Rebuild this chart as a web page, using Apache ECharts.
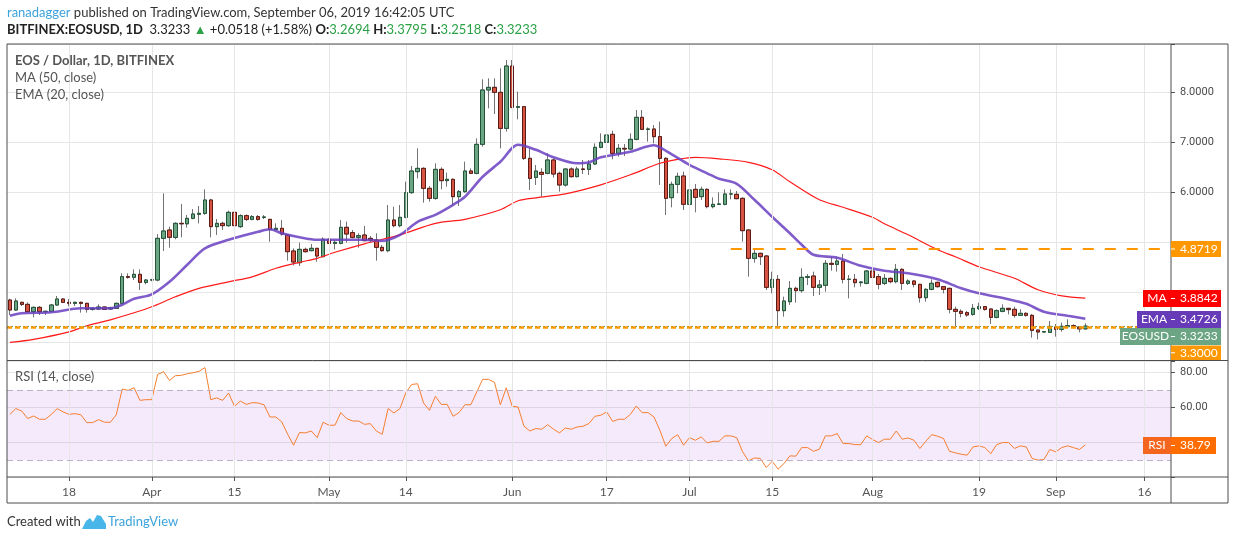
<!DOCTYPE html>
<html lang="en">
<head>
<meta charset="UTF-8">
<title>EOS / Dollar, 1D, BITFINEX</title>
<script src="https://cdn.jsdelivr.net/npm/echarts/dist/echarts.min.js"></script>
<style>
    html, body { margin: 0; padding: 0; background: #fff; }
    #chart { width: 1234px; height: 540px; }
</style>
</head>
<body>
<div id="chart"></div>
<script>
    // daily candles from Mar 8 to Sep 6 2019, axis runs on to Sep 20
    const firstDay = Date.UTC(2019, 2, 8);
    const totalSlots = 197;

    const open = [
        3.846, 3.646, 3.799, 3.759, 3.613, 3.699, 3.613, 3.620, 3.746, 3.866,
        3.799, 3.779, 3.799, 3.779, 3.659, 3.666, 3.706, 3.666, 3.679, 3.779,
        4.313, 4.300, 4.359, 4.199, 4.246, 4.246, 5.079, 5.246, 5.099, 5.379,
        5.370, 5.479, 5.560, 5.579, 5.846, 5.313, 5.379, 5.333, 5.599, 5.313,
        5.533, 5.459, 5.513, 5.500, 5.459, 5.259, 5.279, 5.146, 4.826, 4.593,
        4.859, 4.833, 4.879, 4.713, 5.059, 4.979, 4.979, 5.299, 5.193, 5.099,
        5.146, 5.079, 5.046, 4.899, 4.833, 5.446, 5.333, 5.499, 5.993, 6.413,
        6.479, 6.079, 5.879, 6.459, 6.233, 6.259, 5.913, 6.013, 6.426, 6.379,
        6.959, 8.046, 8.099, 7.999, 7.279, 8.526, 7.699, 7.713, 6.679, 6.299,
        6.399, 6.379, 6.646, 6.379, 6.146, 6.466, 6.313, 6.466, 6.459, 6.566,
        6.899, 6.999, 7.159, 6.779, 6.879, 6.866, 7.059, 7.499, 7.259, 7.266,
        7.113, 6.679, 5.893, 6.159, 6.326, 5.760, 6.059, 5.913, 6.059, 5.713,
        5.759, 5.759, 5.966, 5.959, 5.879, 5.246, 4.679, 4.779, 4.726, 4.099,
        4.259, 3.633, 3.813, 4.079, 4.033, 4.299, 4.326, 4.099, 4.139, 4.579,
        4.559, 4.626, 4.259, 4.259, 4.193, 4.179, 4.426, 4.313, 4.179, 4.279,
        4.213, 4.459, 4.179, 4.226, 4.159, 3.893, 4.059, 4.199, 4.113, 4.079,
        3.659, 3.619, 3.593, 3.559, 3.673, 3.713, 3.666, 3.499, 3.619, 3.679,
        3.659, 3.539, 3.579, 3.539, 3.246, 3.206, 3.199, 3.306, 3.259, 3.313,
        3.333, 3.306, 3.2694
    ];
    const high = [
        3.870, 3.879, 3.813, 3.799, 3.713, 3.726, 3.633, 3.766, 3.926, 3.879,
        3.866, 3.813, 3.813, 3.793, 3.693, 3.759, 3.713, 3.713, 3.793, 4.379,
        4.379, 4.459, 4.459, 4.266, 4.270, 5.166, 5.979, 5.313, 5.400, 5.766,
        5.546, 5.666, 5.726, 6.059, 5.870, 5.466, 5.413, 5.633, 5.633, 5.560,
        5.559, 5.546, 5.546, 5.546, 5.470, 5.379, 5.446, 5.160, 4.879, 4.993,
        4.893, 4.966, 4.890, 5.099, 5.079, 5.046, 5.446, 5.413, 5.246, 5.179,
        5.326, 5.126, 5.179, 4.946, 5.746, 5.713, 5.746, 6.213, 6.526, 6.879,
        6.500, 6.126, 6.579, 6.499, 6.393, 6.279, 6.046, 6.613, 6.479, 7.079,
        8.259, 8.279, 8.279, 8.479, 8.646, 8.646, 8.013, 7.726, 6.879, 6.546,
        6.479, 6.779, 6.679, 6.413, 6.479, 6.499, 6.513, 6.646, 6.646, 6.979,
        7.179, 7.259, 7.233, 6.966, 6.966, 7.179, 7.646, 7.646, 7.299, 7.346,
        7.413, 6.700, 6.213, 6.393, 6.413, 6.113, 6.166, 6.113, 6.080, 5.899,
        5.999, 6.059, 6.059, 6.026, 5.900, 5.260, 4.859, 4.793, 4.746, 4.413,
        4.346, 3.913, 4.226, 4.113, 4.479, 4.366, 4.413, 4.246, 4.646, 4.713,
        4.713, 4.766, 4.346, 4.366, 4.226, 4.446, 4.446, 4.366, 4.366, 4.299,
        4.566, 4.479, 4.259, 4.246, 4.170, 4.080, 4.259, 4.213, 4.120, 4.090,
        3.713, 3.659, 3.626, 3.766, 3.793, 3.726, 3.680, 3.659, 3.759, 3.690,
        3.713, 3.659, 3.599, 3.566, 3.250, 3.226, 3.426, 3.366, 3.393, 3.459,
        3.359, 3.320, 3.3795
    ];
    const low = [
        3.546, 3.630, 3.726, 3.600, 3.499, 3.546, 3.546, 3.600, 3.730, 3.790,
        3.720, 3.726, 3.593, 3.593, 3.633, 3.646, 3.646, 3.646, 3.666, 3.760,
        4.273, 4.246, 4.046, 4.160, 4.220, 4.220, 4.826, 4.893, 5.060, 5.099,
        5.293, 5.460, 5.379, 5.550, 5.099, 5.146, 5.246, 5.310, 5.213, 5.290,
        5.426, 5.440, 5.433, 5.466, 5.013, 5.240, 5.133, 4.633, 4.539, 4.526,
        4.793, 4.820, 4.613, 4.700, 4.966, 4.859, 4.960, 4.993, 5.079, 4.893,
        5.020, 4.993, 4.633, 4.813, 4.800, 5.300, 5.300, 5.480, 5.970, 6.279,
        5.793, 5.813, 5.850, 6.059, 6.113, 5.746, 5.726, 5.990, 6.366, 6.360,
        6.913, 7.679, 7.566, 6.879, 7.213, 7.680, 7.459, 6.646, 6.046, 6.146,
        5.913, 6.360, 6.293, 6.013, 6.113, 6.293, 6.300, 6.366, 6.346, 6.550,
        6.880, 6.970, 6.660, 6.713, 6.726, 6.850, 7.040, 7.246, 7.013, 6.979,
        6.146, 5.546, 5.699, 5.979, 5.646, 5.579, 5.599, 5.846, 5.679, 5.679,
        5.746, 5.740, 5.859, 5.860, 5.013, 4.313, 4.593, 4.546, 4.046, 3.979,
        3.299, 3.513, 3.746, 3.793, 3.993, 4.146, 3.926, 3.946, 4.013, 4.433,
        4.413, 4.179, 3.879, 4.099, 4.113, 4.160, 4.279, 4.059, 4.146, 4.179,
        4.179, 4.046, 4.146, 4.099, 3.793, 3.813, 4.040, 4.093, 3.979, 3.579,
        3.313, 3.499, 3.513, 3.533, 3.646, 3.633, 3.366, 3.479, 3.600, 3.559,
        3.493, 3.526, 3.513, 3.093, 3.059, 3.193, 3.193, 3.113, 3.213, 3.300,
        3.279, 3.199, 3.2518
    ];
    const close = [
        3.646, 3.826, 3.759, 3.613, 3.699, 3.613, 3.620, 3.746, 3.866, 3.799,
        3.779, 3.799, 3.779, 3.659, 3.673, 3.706, 3.659, 3.693, 3.779, 4.313,
        4.300, 4.359, 4.199, 4.246, 4.250, 5.079, 5.226, 5.099, 5.379, 5.370,
        5.479, 5.566, 5.579, 5.846, 5.313, 5.379, 5.333, 5.599, 5.333, 5.533,
        5.459, 5.513, 5.459, 5.506, 5.259, 5.279, 5.166, 4.813, 4.606, 4.859,
        4.813, 4.879, 4.726, 5.059, 4.979, 4.999, 5.299, 5.166, 5.099, 5.133,
        5.033, 5.046, 4.899, 4.833, 5.446, 5.333, 5.499, 5.993, 6.426, 6.479,
        6.079, 5.879, 6.459, 6.233, 6.259, 5.913, 6.013, 6.426, 6.379, 6.959,
        8.046, 8.099, 7.999, 7.279, 8.526, 7.699, 7.713, 6.679, 6.279, 6.426,
        6.359, 6.646, 6.366, 6.146, 6.466, 6.313, 6.466, 6.459, 6.566, 6.899,
        6.999, 7.146, 6.779, 6.879, 6.866, 7.059, 7.499, 7.259, 7.266, 7.113,
        6.679, 5.879, 6.159, 6.319, 5.760, 6.046, 5.899, 6.059, 5.713, 5.759,
        5.766, 5.966, 5.966, 5.873, 5.233, 4.679, 4.779, 4.713, 4.099, 4.259,
        3.633, 3.826, 4.079, 4.033, 4.299, 4.313, 4.099, 4.146, 4.579, 4.559,
        4.626, 4.259, 4.260, 4.193, 4.206, 4.426, 4.299, 4.159, 4.279, 4.213,
        4.459, 4.179, 4.226, 4.159, 3.893, 4.059, 4.179, 4.113, 4.059, 3.659,
        3.619, 3.579, 3.546, 3.679, 3.713, 3.659, 3.499, 3.633, 3.679, 3.653,
        3.539, 3.579, 3.539, 3.239, 3.206, 3.213, 3.319, 3.259, 3.319, 3.333,
        3.299, 3.269, 3.3233
    ];

    // indicator lines: [day index, value]
    const ma50 = [
        [0, 3.00], [4, 3.06], [10, 3.21], [13, 3.33], [15, 3.39], [17, 3.45], [21, 3.59],
        [24, 3.71], [28, 3.91], [32, 4.08], [37, 4.21], [41, 4.31], [45, 4.48], [49, 4.60],
        [52, 4.68], [55, 4.80], [60, 4.97], [66, 5.15], [72, 5.38], [77, 5.46], [83, 5.65],
        [86, 5.83], [89, 5.89], [94, 5.97], [100, 6.15], [105, 6.35], [110, 6.58], [113, 6.66],
        [116, 6.70], [120, 6.67], [125, 6.60], [129, 6.45], [132, 6.21], [137, 5.85], [141, 5.70],
        [146, 5.50], [148, 5.37], [152, 5.15], [157, 4.85], [160, 4.71], [164, 4.51], [170, 4.28],
        [174, 4.05], [178, 3.93], [182, 3.8842]
    ];
    const ema20 = [
        [0, 3.53], [2, 3.58], [7, 3.60], [12, 3.68], [17, 3.68], [19, 3.75], [21, 3.87],
        [24, 3.96], [27, 4.21], [30, 4.55], [33, 4.88], [37, 5.05], [42, 5.21], [44, 5.26],
        [46, 5.18], [49, 5.10], [52, 5.05], [55, 5.05], [60, 5.05], [63, 5.03], [66, 5.15],
        [69, 5.41], [72, 5.55], [75, 5.75], [77, 5.91], [80, 6.31], [83, 6.61], [86, 6.95],
        [89, 6.85], [92, 6.70], [96, 6.58], [98, 6.60], [100, 6.70], [105, 6.81], [109, 6.94],
        [110, 6.90], [112, 6.76], [115, 6.55], [118, 6.38], [120, 6.27], [123, 6.17], [126, 5.85],
        [129, 5.51], [132, 5.18], [134, 4.95], [136, 4.75], [140, 4.69], [144, 4.53], [148, 4.43],
        [152, 4.38], [157, 4.26], [161, 4.08], [164, 3.98], [169, 3.86], [172, 3.77], [175, 3.61],
        [179, 3.53], [182, 3.4726]
    ];
    const rsi = [
        56.2, 59.5, 58.1, 53.8, 55.3, 53.4, 53.4, 56.2, 59.5, 57.6,
        56.2, 56.6, 56.0, 51.5, 51.5, 53.2, 51.7, 51.7, 56.0, 70.7,
        69.9, 71.4, 64.2, 64.6, 64.6, 79.0, 80.6, 75.6, 78.3, 78.5,
        79.4, 80.0, 80.8, 82.9, 64.6, 65.6, 64.2, 68.4, 60.8, 63.8,
        61.9, 62.9, 62.7, 61.7, 54.7, 54.7, 51.9, 44.8, 38.6, 45.8,
        45.6, 46.7, 42.9, 51.7, 50.0, 50.0, 57.2, 53.8, 52.4, 52.4,
        50.5, 50.9, 46.7, 44.8, 59.5, 57.0, 59.5, 68.6, 73.3, 73.7,
        62.7, 58.5, 66.5, 61.9, 61.9, 55.1, 57.2, 61.7, 61.7, 69.0,
        76.2, 76.2, 74.5, 61.7, 71.4, 60.8, 60.4, 49.4, 46.7, 48.1,
        47.7, 50.3, 47.7, 45.6, 48.4, 47.7, 49.0, 49.4, 51.0, 55.1,
        55.7, 57.6, 52.2, 53.4, 53.4, 56.2, 61.0, 57.2, 57.2, 54.7,
        47.1, 38.0, 42.4, 44.6, 38.6, 42.9, 41.4, 43.3, 39.9, 40.8,
        40.8, 43.9, 43.9, 42.9, 34.8, 29.6, 31.3, 31.0, 25.8, 29.4,
        24.9, 28.1, 32.5, 32.3, 37.2, 37.2, 35.1, 36.3, 43.9, 43.9,
        45.2, 39.5, 39.5, 38.9, 38.9, 43.9, 41.8, 40.1, 42.0, 42.0,
        46.7, 42.0, 42.7, 41.4, 36.7, 40.8, 44.6, 43.7, 42.4, 35.1,
        34.2, 33.4, 32.9, 37.6, 38.2, 37.2, 33.8, 38.9, 40.1, 40.1,
        36.7, 38.2, 37.6, 31.0, 30.0, 30.4, 36.1, 34.8, 37.2, 38.2,
        37.2, 36.1, 38.79
    ];

    const tickDates = ['2019-03-18', '2019-04-01', '2019-04-15', '2019-05-01', '2019-05-14', '2019-06-01',
        '2019-06-17', '2019-07-01', '2019-07-15', '2019-08-01', '2019-08-19', '2019-09-01', '2019-09-16'];
    const tickText = ['18', 'Apr', '15', 'May', '14', 'Jun', '17', 'Jul', '15', 'Aug', '19', 'Sep', '16'];

    const resistance = 4.8719;     // dashed level, drawn from Jul 8 on
    const resistanceFrom = 122;
    const support = 3.30;
    const lastClose = 3.3233;

    const dates = [];
    for (let k = 0; k < totalSlots; k++) {
        dates.push(new Date(firstDay + k * 864e5).toISOString().slice(0, 10));
    }

    const wicks = open.map((o, i) => [o, close[i], low[i], high[i]]);
    const bodies = open.map((o, i) => [o, close[i], Math.min(o, close[i]), Math.max(o, close[i])]);
    const isTick = (idx, val) => tickDates.includes(val);

    const font = 'Lato, "Open Sans", sans-serif';
    const gridLine = '#e6e6e6';
    const frame = '#4d4d4d';

    function valueBox(y, h, color, text, w) {
        return [
            { type: 'rect', z: 100, shape: { x: 1171, y: y, width: w || 50, height: h }, style: { fill: color } },
            { type: 'line', z: 101, shape: { x1: 1171, y1: y + h / 2, x2: 1175, y2: y + h / 2 }, style: { stroke: '#fff', lineWidth: 1 } },
            { type: 'text', z: 101, x: 1180, y: y + h / 2, style: { text: text, fill: '#fff', font: '12px ' + font, verticalAlign: 'middle' } }
        ];
    }
    function nameBox(x, y, h, color, text) {
        return [
            { type: 'rect', z: 100, shape: { x: x, y: y, width: 1171 - x, height: h }, style: { fill: color } },
            { type: 'text', z: 101, x: (x + 1171) / 2, y: y + h / 2, style: { text: text, fill: '#fff', font: '12px ' + font, align: 'center', verticalAlign: 'middle' } }
        ];
    }

    const chart = echarts.init(document.getElementById('chart'));
    chart.setOption({
        animation: false,
        backgroundColor: '#fff',
        grid: [
            { left: 7, right: 63, top: 44, height: 316, containLabel: false, outerBoundsMode: 'none' },
            { left: 7, right: 63, top: 361, height: 116, containLabel: false, outerBoundsMode: 'none' }
        ],
        xAxis: [
            {
                type: 'category', gridIndex: 0, data: dates, boundaryGap: true,
                axisLine: { show: false }, axisTick: { show: false }, axisLabel: { show: false }, splitLine: { show: false }
            },
            {
                type: 'category', gridIndex: 1, data: dates, boundaryGap: true,
                axisLine: { show: false },
                axisTick: { show: true, alignWithLabel: true, interval: isTick, length: 4, lineStyle: { color: '#555' } },
                axisLabel: {
                    interval: isTick, margin: 9, color: '#555', fontSize: 12, fontFamily: font,
                    formatter: v => tickText[tickDates.indexOf(v)]
                },
                splitLine: { show: false }
            }
        ],
        yAxis: [
            {
                type: 'value', gridIndex: 0, position: 'right', min: 2.646, max: 8.966, splitNumber: 6,
                axisLine: { show: false },
                axisTick: { show: true, length: 4, lineStyle: { color: '#555' } },
                axisLabel: {
                    margin: 9, color: '#4a4a4a', fontSize: 11, fontFamily: 'Roboto, sans-serif',
                    formatter: v => (Math.abs(v - Math.round(v)) < 1e-6 && v >= 6) ? v.toFixed(4) : ''
                },
                splitLine: { lineStyle: { color: gridLine } }
            },
            {
                type: 'value', gridIndex: 1, position: 'right', min: 20.4, max: 86.7, splitNumber: 3,
                axisLine: { show: false },
                axisTick: { show: true, length: 4, lineStyle: { color: '#555' } },
                axisLabel: {
                    margin: 9, color: '#4a4a4a', fontSize: 11, fontFamily: 'Roboto, sans-serif',
                    formatter: v => [40, 60, 80].includes(Math.round(v * 1000) / 1000) ? v.toFixed(2) : ''
                },
                splitLine: { lineStyle: { color: gridLine } }
            }
        ],
        series: [
            {   // date grid lines, price pane
                type: 'line', xAxisIndex: 0, yAxisIndex: 0, data: [], z: 1, silent: true,
                markLine: {
                    silent: true, symbol: ['none', 'none'], label: { show: false },
                    lineStyle: { color: gridLine, width: 1, type: 'solid' },
                    data: tickDates.map(d => ({ xAxis: d }))
                }
            },
            {   // date grid lines and 30/70 band, RSI pane
                type: 'line', xAxisIndex: 1, yAxisIndex: 1, data: [], z: 1, silent: true,
                markArea: {
                    silent: true, itemStyle: { color: 'rgba(156, 39, 226, 0.1)' },
                    data: [[{ yAxis: 70 }, { yAxis: 30 }]]
                },
                markLine: {
                    silent: true, symbol: ['none', 'none'], label: { show: false },
                    lineStyle: { color: gridLine, width: 1, type: 'solid' },
                    data: tickDates.map(d => ({ xAxis: d })).concat([
                        { yAxis: 70, lineStyle: { color: '#bdb1c6', type: [6, 4] } },
                        { yAxis: 30, lineStyle: { color: '#bdb1c6', type: [6, 4] } }
                    ])
                }
            },
            {   // wicks
                type: 'candlestick', xAxisIndex: 0, yAxisIndex: 0, data: wicks, barWidth: 4, z: 2, silent: true,
                itemStyle: { color: '#737375', color0: '#737375', borderColor: '#737375', borderColor0: '#737375', borderWidth: 1 }
            },
            {   // bodies
                type: 'candlestick', xAxisIndex: 0, yAxisIndex: 0, data: bodies, barWidth: 4, z: 3, silent: true,
                itemStyle: { color: '#6ba583', color0: '#d75442', borderColor: '#225437', borderColor0: '#5b1a13', borderWidth: 1 }
            },
            {
                name: 'MA (50, close)', type: 'line', xAxisIndex: 0, yAxisIndex: 0, data: ma50, z: 4,
                showSymbol: false, smooth: 0.3, silent: true, lineStyle: { color: '#ff1a1a', width: 1.2 }
            },
            {
                name: 'EMA (20, close)', type: 'line', xAxisIndex: 0, yAxisIndex: 0, data: ema20, z: 4,
                showSymbol: false, smooth: 0.3, silent: true, lineStyle: { color: '#6a3fc2', width: 2.6, opacity: 0.85 }
            },
            {   // horizontal levels
                type: 'line', xAxisIndex: 0, yAxisIndex: 0, data: [], z: 5, silent: true,
                markLine: {
                    silent: true, symbol: ['none', 'none'], label: { show: false },
                    data: [
                        [{ coord: [dates[resistanceFrom], resistance], lineStyle: { color: '#ff9800', width: 2, type: [11, 11] } },
                         { coord: [dates[totalSlots - 1], resistance] }],
                        { yAxis: lastClose, lineStyle: { color: '#4f9c6c', width: 1, type: [2, 2] } },
                        { yAxis: support, lineStyle: { color: '#ff9800', width: 2.5, type: [5, 3] } }
                    ]
                }
            },
            {
                name: 'RSI (14, close)', type: 'line', xAxisIndex: 1, yAxisIndex: 1, data: rsi, z: 4,
                showSymbol: false, silent: true, lineStyle: { color: '#f57f2f', width: 1 }
            }
        ],
        graphic: [
            {
                type: 'text', x: 7, y: 13, style: {
                    text: '{u|ranadagger}{t| published on TradingView.com, September 06, 2019 16:42:05 UTC}',
                    verticalAlign: 'middle', font: '13px ' + font,
                    rich: {
                        u: { fill: '#3ca3dc', font: '13px ' + font },
                        t: { fill: '#333', font: '13px ' + font }
                    }
                }
            },
            {
                type: 'text', x: 7, y: 30, style: {
                    text: '{b|BITFINEX:EOSUSD, 1D}{t|  3.3233 }{g|▲}{t| +0.0518 (+1.58%) }{b|O:}{v|3.2694}{b| H:}{v|3.3795}{b| L:}{v|3.2518}{b| C:}{v|3.3233}',
                    verticalAlign: 'middle', font: '13px ' + font,
                    rich: {
                        b: { fill: '#222', font: 'bold 13px ' + font },
                        t: { fill: '#222', font: '13px ' + font },
                        g: { fill: '#2aa146', font: '13px ' + font },
                        v: { fill: '#2aa146', font: '13px ' + font }
                    }
                }
            },
            { type: 'text', x: 15, y: 61, z: 50, style: { text: 'EOS / Dollar, 1D, BITFINEX', fill: '#555', font: 'bold 13px ' + font, verticalAlign: 'middle' } },
            { type: 'text', x: 15, y: 78, z: 50, style: { text: 'MA (50, close)', fill: '#555', font: '13px ' + font, verticalAlign: 'middle' } },
            { type: 'text', x: 15, y: 95, z: 50, style: { text: 'EMA (20, close)', fill: '#555', font: '13px ' + font, verticalAlign: 'middle' } },
            { type: 'text', x: 15, y: 377, z: 50, style: { text: 'RSI (14, close)', fill: '#555', font: '13px ' + font, verticalAlign: 'middle' } },

            // pane frame
            { type: 'rect', z: 99, shape: { x: 7, y: 44, width: 1221, height: 459 }, style: { fill: 'none', stroke: frame, lineWidth: 1 } },
            { type: 'line', z: 99, shape: { x1: 7, y1: 360.5, x2: 1228, y2: 360.5 }, style: { stroke: frame, lineWidth: 1 } },
            { type: 'line', z: 99, shape: { x1: 7, y1: 477, x2: 1228, y2: 477 }, style: { stroke: frame, lineWidth: 1 } },
            { type: 'line', z: 99, shape: { x1: 1171, y1: 44, x2: 1171, y2: 503 }, style: { stroke: frame, lineWidth: 1 } },

            // price scale labels
            ...valueBox(241, 16, '#ff9800', '4.8719'),
            ...nameBox(1143, 290, 17, '#ff0000', 'MA'),
            ...valueBox(290, 17, '#ff0000', '3.8842'),
            ...nameBox(1137, 311, 17, '#673ab7', 'EMA'),
            ...valueBox(311, 17, '#673ab7', '3.4726'),
            ...nameBox(1120, 328, 17, '#6ba583', 'EOSUSD'),
            ...valueBox(328, 17, '#6ba583', '3.3233'),
            ...valueBox(345.5, 14.5, '#ff9800', '3.3000'),
            ...nameBox(1143, 437, 17, '#f4661e', 'RSI'),
            ...valueBox(437, 17, '#ff6d00', '38.79', 45),

            // footer
            { type: 'text', x: 7, y: 522, style: { text: 'Created with', fill: '#333', font: '13px ' + font, verticalAlign: 'middle' } },
            {
                type: 'polygon', shape: { points: [[82, 529], [86, 521], [90, 518], [93, 522], [97, 515], [101, 516], [106, 524], [106, 529]] },
                style: { fill: '#48b6e8' }
            },
            { type: 'text', x: 108, y: 522, style: { text: 'TradingView', fill: '#3ca3dc', font: '13px ' + font, verticalAlign: 'middle' } }
        ]
    });
</script>
</body>
</html>
